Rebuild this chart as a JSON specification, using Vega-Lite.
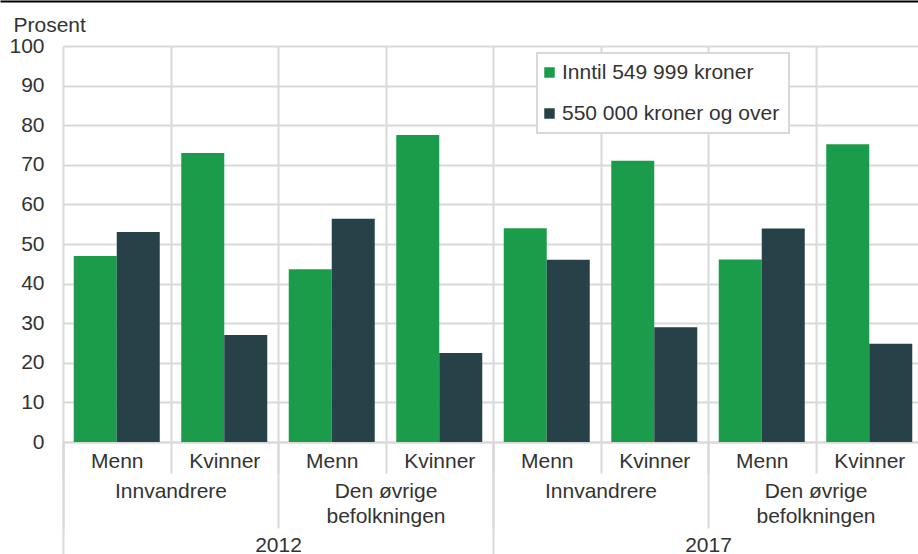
{
  "$schema": "https://vega.github.io/schema/vega-lite/v6.json",
  "width": 860,
  "height": 396,
  "autosize": {"type": "none"},
  "padding": {"left": 63, "top": 46, "right": -5, "bottom": 112},
  "background": "white",
  "config": {
    "view": {"stroke": null},
    "font": "Liberation Sans",
    "axis": {"labelFont": "Liberation Sans", "titleFont": "Liberation Sans"},
    "legend": {"labelFont": "Liberation Sans", "strokeWidth": 2}
  },
  "data": {
    "values": [
      {"k": "2012|Innvandrere|Menn", "g": "2012|Innvandrere", "year": "2012", "series": "Inntil 549 999 kroner", "value": 47},
      {"k": "2012|Innvandrere|Menn", "g": "2012|Innvandrere", "year": "2012", "series": "550 000 kroner og over", "value": 53},
      {"k": "2012|Innvandrere|Kvinner", "g": "2012|Innvandrere", "year": "2012", "series": "Inntil 549 999 kroner", "value": 73},
      {"k": "2012|Innvandrere|Kvinner", "g": "2012|Innvandrere", "year": "2012", "series": "550 000 kroner og over", "value": 27},
      {"k": "2012|Øvrige|Menn", "g": "2012|Den øvrige|befolkningen", "year": "2012", "series": "Inntil 549 999 kroner", "value": 43.6},
      {"k": "2012|Øvrige|Menn", "g": "2012|Den øvrige|befolkningen", "year": "2012", "series": "550 000 kroner og over", "value": 56.4},
      {"k": "2012|Øvrige|Kvinner", "g": "2012|Den øvrige|befolkningen", "year": "2012", "series": "Inntil 549 999 kroner", "value": 77.5},
      {"k": "2012|Øvrige|Kvinner", "g": "2012|Den øvrige|befolkningen", "year": "2012", "series": "550 000 kroner og over", "value": 22.5},
      {"k": "2017|Innvandrere|Menn", "g": "2017|Innvandrere", "year": "2017", "series": "Inntil 549 999 kroner", "value": 54},
      {"k": "2017|Innvandrere|Menn", "g": "2017|Innvandrere", "year": "2017", "series": "550 000 kroner og over", "value": 46},
      {"k": "2017|Innvandrere|Kvinner", "g": "2017|Innvandrere", "year": "2017", "series": "Inntil 549 999 kroner", "value": 71},
      {"k": "2017|Innvandrere|Kvinner", "g": "2017|Innvandrere", "year": "2017", "series": "550 000 kroner og over", "value": 29},
      {"k": "2017|Øvrige|Menn", "g": "2017|Den øvrige|befolkningen", "year": "2017", "series": "Inntil 549 999 kroner", "value": 46.1},
      {"k": "2017|Øvrige|Menn", "g": "2017|Den øvrige|befolkningen", "year": "2017", "series": "550 000 kroner og over", "value": 53.9},
      {"k": "2017|Øvrige|Kvinner", "g": "2017|Den øvrige|befolkningen", "year": "2017", "series": "Inntil 549 999 kroner", "value": 75.2},
      {"k": "2017|Øvrige|Kvinner", "g": "2017|Den øvrige|befolkningen", "year": "2017", "series": "550 000 kroner og over", "value": 24.8}
    ]
  },
  "layer": [
    {
      "mark": {"type": "bar"},
      "encoding": {
        "x": {
          "field": "k", "type": "nominal", "sort": null,
          "scale": {"paddingInner": 0, "paddingOuter": 0},
          "axis": {
            "orient": "bottom", "title": null,
            "labelExpr": "split(datum.value,'|')[2]",
            "labelAngle": 0, "tickBand": "extent", "tickSize": 31, "labelPadding": -23,
            "grid": true, "gridColor": "#d9d9d9", "gridWidth": 2,
            "domainColor": "#d9d9d9", "domainWidth": 2,
            "tickColor": "#d9d9d9", "tickWidth": 2,
            "labelFontSize": 21, "labelColor": "#333333"
          }
        },
        "xOffset": {
          "field": "series", "type": "nominal", "sort": null,
          "scale": {"domain": ["Inntil 549 999 kroner", "550 000 kroner og over"], "paddingInner": 0, "paddingOuter": 0.25}
        },
        "y": {
          "field": "value", "type": "quantitative",
          "scale": {"domain": [0, 100], "nice": false},
          "axis": {
            "title": "Prosent", "titleAngle": 0, "titleAlign": "left", "titleBaseline": "alphabetic",
            "titleX": -50, "titleY": -15, "titleFontSize": 21, "titleFontWeight": "normal", "titleColor": "#333333",
            "values": [0, 10, 20, 30, 40, 50, 60, 70, 80, 90, 100],
            "grid": true, "gridColor": "#d9d9d9", "gridWidth": 2,
            "domain": false, "ticks": false, "tickSize": 0, "labelPadding": 19,
            "labelFontSize": 21, "labelColor": "#333333"
          }
        },
        "color": {
          "field": "series", "type": "nominal", "sort": null,
          "scale": {"domain": ["Inntil 549 999 kroner", "550 000 kroner og over"], "range": ["#1b9c4a", "#274148"]},
          "legend": {
            "title": null, "orient": "none", "legendX": 474, "legendY": 7,
            "fillColor": "white", "strokeColor": "#d9d9d9", "padding": 9,
            "symbolType": "square", "symbolSize": 110, "symbolStrokeWidth": 0, "symbolOffset": -7,
            "labelFontSize": 21, "labelColor": "#333333", "labelLimit": 0,
            "rowPadding": 19, "labelOffset": 2
          }
        }
      }
    },
    {
      "mark": {"type": "bar", "opacity": 0},
      "encoding": {
        "x": {
          "field": "g", "type": "nominal", "sort": null,
          "scale": {"paddingInner": 0, "paddingOuter": 0},
          "axis": {
            "orient": "bottom", "title": null,
            "labelExpr": "slice(split(datum.value,'|'),1)",
            "labelAngle": 0, "tickBand": "extent", "tickSize": 86, "labelPadding": -48,
            "labelLineHeight": 25,
            "grid": false, "domain": false,
            "tickColor": "#d9d9d9", "tickWidth": 2,
            "labelFontSize": 21, "labelColor": "#333333"
          }
        }
      }
    },
    {
      "mark": {"type": "bar", "opacity": 0},
      "encoding": {
        "x": {
          "field": "year", "type": "nominal", "sort": null,
          "scale": {"paddingInner": 0, "paddingOuter": 0},
          "axis": {
            "orient": "bottom", "title": null,
            "labelAngle": 0, "tickBand": "extent", "tickSize": 112, "labelPadding": -20,
            "grid": false, "domain": false,
            "tickColor": "#d9d9d9", "tickWidth": 2,
            "labelFontSize": 21, "labelColor": "#333333"
          }
        }
      }
    },
    {
      "mark": {"type": "point", "opacity": 0},
      "encoding": {
        "x": {
          "field": "value", "type": "quantitative",
          "scale": {"domain": [0, 100], "range": [-63, 855], "nice": false},
          "axis": {
            "orient": "top", "offset": 45, "title": null,
            "domainColor": "#000000", "domainWidth": 2,
            "ticks": false, "labels": false, "grid": false
          }
        }
      }
    }
  ],
  "resolve": {"scale": {"x": "independent"}, "axis": {"x": "independent"}}
}
